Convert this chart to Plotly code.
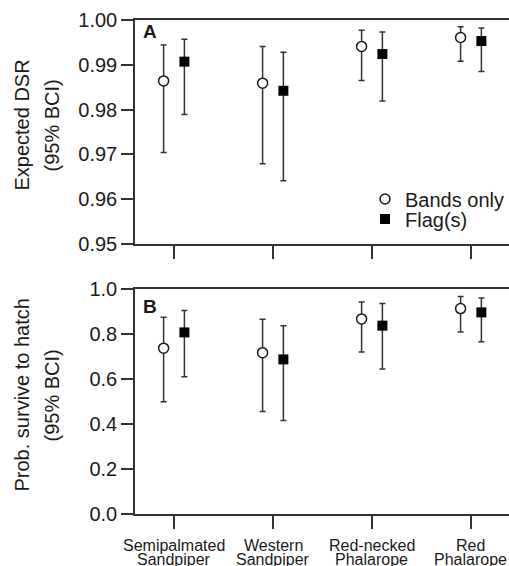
import plotly.graph_objects as go
from plotly.subplots import make_subplots

species = ["Semipalmated Sandpiper", "Western Sandpiper", "Red-necked Phalarope", "Red Phalarope"]
label_line1 = ["Semipalmated", "Western", "Red-necked", "Red"]
label_line2 = ["Sandpiper", "Sandpiper", "Phalarope", "Phalarope"]

# Panel A: expected daily survival rate (DSR)
dsr_bands = [0.9864, 0.9859, 0.9941, 0.9961]
dsr_bands_hi = [0.9944, 0.9941, 0.9977, 0.9985]
dsr_bands_lo = [0.9704, 0.9679, 0.9865, 0.9908]
dsr_flag = [0.9907, 0.9842, 0.9924, 0.9953]
dsr_flag_hi = [0.9957, 0.9928, 0.9973, 0.9982]
dsr_flag_lo = [0.9789, 0.9641, 0.9819, 0.9885]

# Panel B: probability of surviving to hatch
hatch_bands = [0.737, 0.717, 0.867, 0.913]
hatch_bands_hi = [0.874, 0.865, 0.942, 0.967]
hatch_bands_lo = [0.499, 0.456, 0.720, 0.809]
hatch_flag = [0.807, 0.687, 0.837, 0.896]
hatch_flag_hi = [0.904, 0.837, 0.936, 0.960]
hatch_flag_lo = [0.610, 0.415, 0.644, 0.766]

dsr_ticks = [0.95, 0.96, 0.97, 0.98, 0.99, 1.00]
hatch_ticks = [0.0, 0.2, 0.4, 0.6, 0.8, 1.0]

title_a = ["Expected DSR", "(95% BCI)"]
title_b = ["Prob. survive to hatch", "(95% BCI)"]

FONT = "Arial, Liberation Sans, sans-serif"
TXT = "#1a1a1a"
LINE = "#333333"

fig = make_subplots(rows=2, cols=1, vertical_spacing=0.0)


def add_pair(row, bands, bhi, blo, flag, fhi, flo, show):
    fig.add_trace(go.Scatter(
        x=species, y=bands, mode="markers", name="Bands only", showlegend=show,
        legend="legend", legendgroup="bands", offsetgroup="bands",
        marker=dict(symbol="circle", size=10, color="white", line=dict(color=TXT, width=1.5)),
        error_y=dict(type="data", symmetric=False,
                     array=[h - v for h, v in zip(bhi, bands)],
                     arrayminus=[v - l for v, l in zip(bands, blo)],
                     color=LINE, thickness=1.5, width=3),
    ), row=row, col=1)
    fig.add_trace(go.Scatter(
        x=species, y=flag, mode="markers", name="Flag(s)", showlegend=show,
        legend="legend2", legendgroup="flag", offsetgroup="flag",
        marker=dict(symbol="square", size=10, color="black", line=dict(color="black", width=0)),
        error_y=dict(type="data", symmetric=False,
                     array=[h - v for h, v in zip(fhi, flag)],
                     arrayminus=[v - l for v, l in zip(flag, flo)],
                     color=LINE, thickness=1.5, width=3),
    ), row=row, col=1)


add_pair(1, dsr_bands, dsr_bands_hi, dsr_bands_lo, dsr_flag, dsr_flag_hi, dsr_flag_lo, True)
add_pair(2, hatch_bands, hatch_bands_hi, hatch_bands_lo, hatch_flag, hatch_flag_hi, hatch_flag_lo, False)

xcommon = dict(type="category", categoryorder="array", categoryarray=species,
               range=[-0.394, 3.384], showline=True, linecolor=LINE, linewidth=1.5,
               mirror=True, ticks="outside", ticklen=13, tickwidth=1.5, tickcolor=LINE,
               showgrid=False, zeroline=False, showticklabels=False)
fig.update_xaxes(**xcommon, row=1, col=1)
fig.update_xaxes(**xcommon, row=2, col=1)

ycommon = dict(showline=True, linecolor=LINE, linewidth=1.5, ticks="outside", ticklen=12,
               tickwidth=1.5, tickcolor=LINE, showgrid=False, zeroline=False,
               tickfont=dict(size=20, color=TXT, family=FONT))
fig.update_yaxes(**ycommon, range=[0.95, 1.0], tickvals=dsr_ticks,
                 ticktext=[f"{t:.2f}" for t in dsr_ticks],
                 domain=[0.5466, 1.0], row=1, col=1)
fig.update_yaxes(**ycommon, range=[0.0, 1.0], tickvals=hatch_ticks,
                 ticktext=[f"{t:.1f}" for t in hatch_ticks],
                 domain=[0.0, 0.4555], row=2, col=1)

tfont = dict(size=20, color=TXT, family=FONT)
annotations = [
    dict(text="<b>A</b>", x=0.016, y=0.976, xref="paper", yref="paper", xanchor="left",
         yanchor="middle", showarrow=False, font=dict(size=19, color=TXT, family=FONT)),
    dict(text="<b>B</b>", x=0.016, y=0.421, xref="paper", yref="paper", xanchor="left",
         yanchor="middle", showarrow=False, font=dict(size=19, color=TXT, family=FONT)),
]
# y-axis titles (two lines each, rotated)
for lines, yc in ((title_a, 0.7864), (title_b, 0.2399)):
    for txt, xc in zip(lines, (-0.3021, -0.2219)):
        annotations.append(dict(text=txt, x=xc, y=yc, xref="paper", yref="paper",
                                xanchor="center", yanchor="middle", textangle=-90,
                                showarrow=False, font=tfont))
# category labels
for sp, l1, l2 in zip(species, label_line1, label_line2):
    annotations.append(dict(text=l1, x=sp, xref="x2", y=(514 - 545) / 494, yref="paper",
                            xanchor="center", yanchor="middle", showarrow=False,
                            font=dict(size=16, color=TXT, family=FONT)))
    annotations.append(dict(text=l2, x=sp, xref="x2", y=(514 - 559) / 494, yref="paper",
                            xanchor="center", yanchor="middle", showarrow=False,
                            font=dict(size=16, color=TXT, family=FONT)))

legend_common = dict(xanchor="left", yanchor="middle", bgcolor="rgba(0,0,0,0)",
                     font=dict(size=20, color=TXT, family=FONT), itemclick=False)
fig.update_layout(
    width=509, height=566,
    margin=dict(l=135, r=0, t=20, b=52),
    paper_bgcolor="white", plot_bgcolor="white",
    scattermode="group", scattergap=0.58,
    font=dict(family=FONT, color=TXT),
    showlegend=True,
    legend=dict(x=0.615, y=0.6377, **legend_common),
    legend2=dict(x=0.615, y=0.5972, **legend_common),
    annotations=annotations,
)

fig.write_html("out.html", config={"displayModeBar": False},
               post_script="document.body.style.margin='0';")
